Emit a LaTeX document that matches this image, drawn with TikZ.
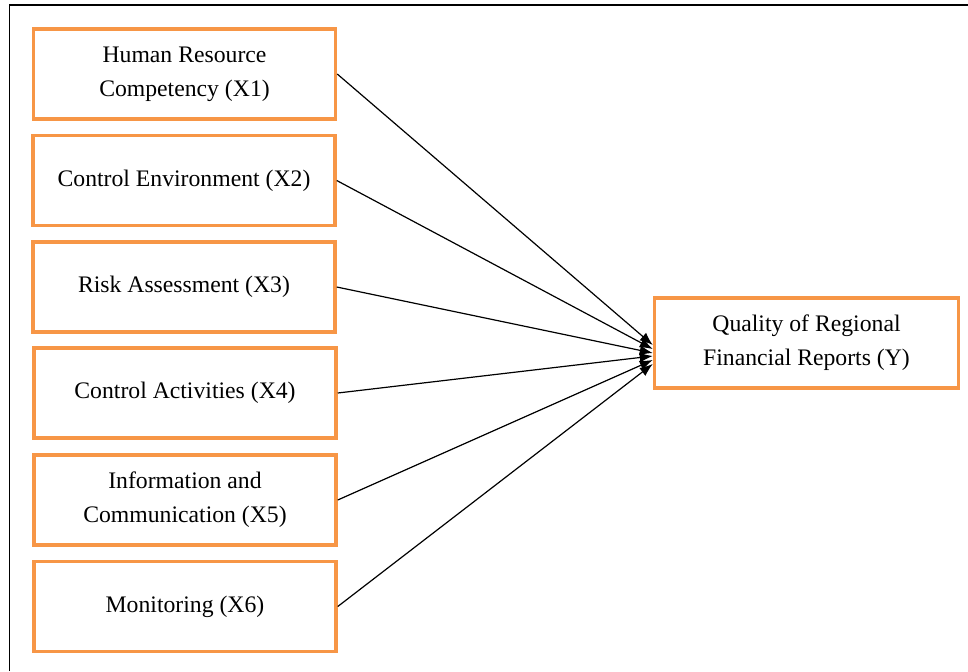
\documentclass[tikz,border=0pt]{standalone}
\usepackage{fontspec}
\setmainfont{Liberation Serif}
\usetikzlibrary{arrows.meta}
\definecolor{boxorange}{HTML}{F79646}
\tikzset{
	varbox/.style={rectangle,draw=boxorange,line width=1.75pt,minimum width=151pt,minimum height=45pt,align=center,font=\fontsize{11.85}{17}\selectfont},
	link/.style={-{Latex[length=6.5pt,width=5pt]},line width=0.6pt}
}
\begin{document}
\begin{tikzpicture}[x=0.5pt,y=-0.5pt]
	\useasboundingbox (0,0) rectangle (968,671);
	\draw[line width=0.75pt] (9.5,671) -- (9.5,5) -- (968,5);
	\node[varbox](x1) at (184.5,74){Human Resource\\Competency (X1)};
	\node[varbox](x2) at (184,180.5){Control Environment (X2)};
	\node[varbox](x3) at (184,287){Risk Assessment (X3)};
	\node[varbox](x4) at (185,393){Control Activities (X4)};
	\node[varbox](x5) at (185,500){Information and\\Communication (X5)};
	\node[varbox](x6) at (185,606.5){Monitoring (X6)};
	\node[varbox,minimum width=152pt](y) at (806.5,343){Quality of Regional\\Financial Reports (Y)};
	\draw[link](x1.east)--([yshift=-1pt]y.west);
	\draw[link](x2.east)--([yshift=-3pt]y.west);
	\draw[link](x3.east)--([yshift=-5pt]y.west);
	\draw[link](x4.east)--([yshift=-6.5pt]y.west);
	\draw[link](x5.east)--([yshift=-8.5pt]y.west);
	\draw[link](x6.east)--([yshift=-10.5pt]y.west);
	
\end{tikzpicture}
\end{document}
